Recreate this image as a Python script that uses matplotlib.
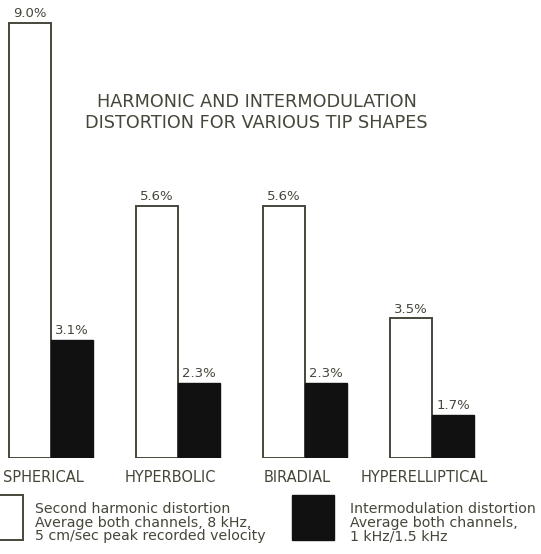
import numpy as np
import matplotlib
matplotlib.use("Agg")
import matplotlib.pyplot as plt
from matplotlib.patches import Rectangle

# data
shapes = ["SPHERICAL", "HYPERBOLIC", "BIRADIAL", "HYPERELLIPTICAL"]
harmonic = [9.0, 5.6, 5.6, 3.5]      # second harmonic distortion, %
intermod = [3.1, 2.3, 2.3, 1.7]      # intermodulation distortion, %

title_lines = ["HARMONIC AND INTERMODULATION", "DISTORTION FOR VARIOUS TIP SHAPES"]
legend_harm = ["Second harmonic distortion",
               "Average both channels, 8 kHz,",
               "5 cm/sec peak recorded velocity"]
legend_im = ["Intermodulation distortion",
             "Average both channels,",
             "1 kHz/1.5 kHz"]

ink = "#46463a"
plt.rcParams['font.family'] = ['DejaVu Sans']

W, H = 541, 554
fig = plt.figure(figsize=(W / 100, H / 100), dpi=100)
fig.patch.set_facecolor("white")

# main bar axes, baseline at pixel row 458
base_px = 458
ax = fig.add_axes([0, (H - base_px) / H, 1, base_px / H])
x = np.arange(len(shapes))
w = 0.33
base = 0.9   # original chart is not drawn from zero

ax.bar(x - w / 2, np.array(harmonic) - base, bottom=base, width=w,
       color="white", edgecolor=ink, linewidth=1.4)
ax.bar(x + w / 2, np.array(intermod) - base, bottom=base, width=w,
       color="#111111", edgecolor="#111111", linewidth=1.0)

for xi, v in zip(x - w / 2, harmonic):
    ax.annotate(f"{v:.1f}%", (xi, v), xytext=(0, 4), textcoords="offset points",
                ha="center", va="baseline", fontsize=9.5, color=ink)
for xi, v in zip(x + w / 2, intermod):
    ax.annotate(f"{v:.1f}%", (xi, v), xytext=(0, 4), textcoords="offset points",
                ha="center", va="baseline", fontsize=9.5, color=ink)

ax.set_xlim(-51 / 127, 490 / 127)
ax.set_ylim(base, base + base_px / 53.7)
ax.set_xticks(x - 0.06)
ax.set_xticklabels(shapes, fontsize=10.5, color=ink)
ax.tick_params(axis="x", length=0, pad=9)
ax.set_yticks([])
for s in ax.spines.values():
    s.set_visible(False)
ax.patch.set_alpha(0)

# overlay in pixel coords for title and legend
ov = fig.add_axes([0, 0, 1, 1], zorder=-1)
ov.set_xlim(0, W)
ov.set_ylim(H, 0)
ov.axis("off")

ov.text(257, 107, title_lines[0], ha="center", va="baseline", fontsize=12.7, color=ink)
ov.text(256, 128, title_lines[1], ha="center", va="baseline", fontsize=12.7, color=ink)

ov.add_patch(Rectangle((-5, 495), 28, 45, facecolor="white", edgecolor=ink, linewidth=1.4))
ov.add_patch(Rectangle((292, 495), 42, 45, facecolor="#111111", edgecolor="#111111"))
for i, (a, b) in enumerate(zip(legend_harm, legend_im)):
    ov.text(35, 513 + 13.5 * i, a, ha="left", va="baseline", fontsize=10.2, color=ink)
    ov.text(350, 513 + 13.5 * i, b, ha="left", va="baseline", fontsize=10.2, color=ink)

fig.savefig("out.png", dpi=100, facecolor="white")
